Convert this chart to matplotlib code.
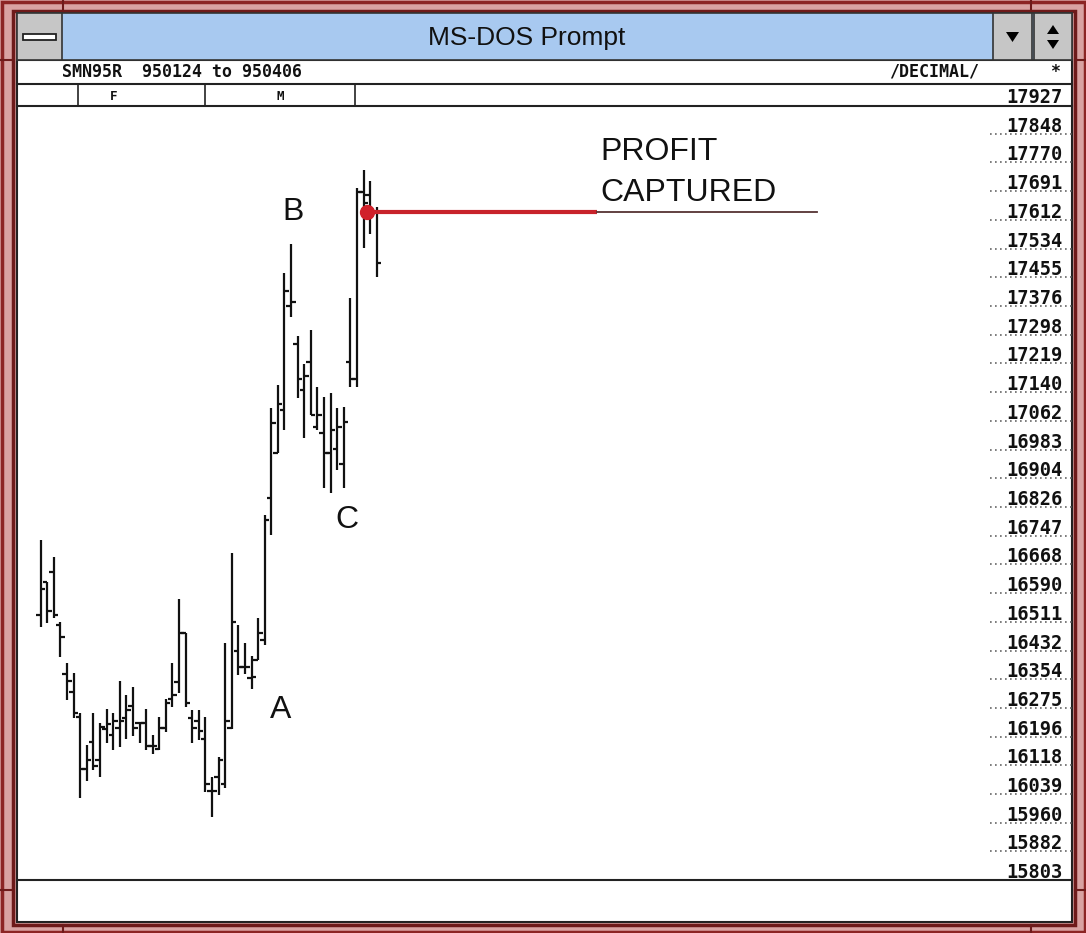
import matplotlib
matplotlib.use("Agg")
import matplotlib.pyplot as plt
import matplotlib.transforms as mtransforms
from matplotlib.patches import Rectangle, Polygon, Circle

# daily bars SMN95R 950124 .. 950406
opens = [16530, 16620, 16647, 16502, 16368, 16318, 16250, 16107, 16181, 16132,
         16217, 16201, 16220, 16247, 16280, 16233, 16233, 16171, 16162, 16220,
         16299, 16346, 16480, 16247, 16239, 16190, 16047, 16085, 16066, 16220,
         16431, 16387, 16357, 16406, 16461, 16850, 16974, 17091, 17376, 17272,
         17146, 17223, 17045, 17028, 16974, 16985, 16943, 17223, 17176, 17689,
         17681, 17634]
highs = [16735, 16620, 16689, 16510, 16398, 16371, 16261, 16173, 16261, 16233,
         16272, 16261, 16349, 16310, 16332, 16236, 16272, 16201, 16250, 16299,
         16398, 16573, 16480, 16269, 16269, 16250, 16085, 16140, 16453, 16700,
         16502, 16453, 16417, 16521, 16804, 17097, 17160, 17467, 17546, 17294,
         17218, 17311, 17154, 17127, 17138, 17097, 17100, 17398, 17700, 17749,
         17719, 17648]
lows = [16497, 16508, 16521, 16414, 16297, 16247, 16028, 16075, 16105, 16085,
        16179, 16160, 16168, 16190, 16198, 16179, 16160, 16149, 16160, 16209,
        16277, 16316, 16277, 16179, 16187, 16044, 15976, 16036, 16055, 16217,
        16365, 16368, 16327, 16406, 16447, 16749, 16974, 17037, 17346, 17124,
        17015, 17078, 17037, 16878, 16864, 16927, 16878, 17154, 17154, 17535,
        17574, 17456]
closes = [16601, 16540, 16530, 16469, 16349, 16261, 16107, 16132, 16116, 16223,
          16231, 16239, 16239, 16269, 16220, 16233, 16171, 16171, 16220, 16288,
          16310, 16480, 16288, 16220, 16212, 16066, 16047, 16132, 16239, 16510,
          16387, 16387, 16360, 16480, 16790, 17056, 17108, 17418, 17387, 17176,
          17185, 17078, 17078, 16974, 17037, 17045, 17059, 17176, 17689, 17659,
          17631, 17494]
price_labels = ["17927", "17848", "17770", "17691", "17612", "17534", "17455",
                "17376", "17298", "17219", "17140", "17062", "16983", "16904",
                "16826", "16747", "16668", "16590", "16511", "16432", "16354",
                "16275", "16196", "16118", "16039", "15960", "15882", "15803"]
month_labels = ["F", "M"]
profit_level = 17634

W, H = 1086, 933
fig = plt.figure(figsize=(W / 100, H / 100), dpi=100)
fig.patch.set_facecolor('#d9a2a2')

# pixel-space layer for the window chrome
bg = fig.add_axes([0, 0, 1, 1])
bg.set_xlim(0, W)
bg.set_ylim(H, 0)
bg.axis('off')

# window frame
bg.add_patch(Rectangle((1.5, 1.5), W - 3, H - 3, fill=False, ec='#8c2424', lw=2.5))
bg.add_patch(Rectangle((13, 11), 1062, 914, fill=False, ec='#6e1a1a', lw=2.5))
for xx in (63, 1031):
    bg.plot([xx, xx], [1, 11], color='#6e1a1a', lw=1.5)
    bg.plot([xx, xx], [925, 932], color='#6e1a1a', lw=1.5)
for yy in (60, 890):
    bg.plot([1, 13], [yy, yy], color='#6e1a1a', lw=1.5)
    bg.plot([1075, 1085], [yy, yy], color='#6e1a1a', lw=1.5)

# client area
bg.add_patch(Rectangle((17, 60), 1055, 862, fc='white', ec='#222222', lw=1.5))

# title bar
bg.add_patch(Rectangle((17, 13), 1055, 47, fc='#a8c9f0', ec='#333333', lw=1.2))
bg.add_patch(Rectangle((17, 13), 45, 47, fc='#c6c6c6', ec='#333333', lw=1.2))
bg.add_patch(Rectangle((23, 34), 33, 6, fc='white', ec='#222222', lw=1.3))
bg.add_patch(Rectangle((993, 13), 39, 47, fc='#c6c6c6', ec='#333333', lw=1.2))
bg.add_patch(Polygon([(1006, 32), (1019, 32), (1012.5, 42)], fc='black'))
bg.add_patch(Rectangle((1034, 13), 38, 47, fc='#c6c6c6', ec='#333333', lw=1.2))
bg.add_patch(Polygon([(1047, 34), (1059, 34), (1053, 25)], fc='black'))
bg.add_patch(Polygon([(1047, 40), (1059, 40), (1053, 49)], fc='black'))
bg.text(527, 38, "MS-DOS Prompt", ha='center', va='center', fontsize=19,
        family='Liberation Sans', color='#111111')

# header rows
mono = dict(family='DejaVu Sans Mono', weight='bold', color='#111111')
bg.text(62, 72, "SMN95R  950124 to 950406", ha='left', va='center', fontsize=12, **mono)
bg.text(979, 72, "/DECIMAL/", ha='right', va='center', fontsize=12, **mono)
bg.text(1055, 72, "*", ha='center', va='center', fontsize=12, **mono)
bg.plot([17, 1072], [84, 84], color='#222222', lw=1.5)
bg.plot([17, 1072], [106, 106], color='#222222', lw=1.5)
for xx in (78, 205, 355):
    bg.plot([xx, xx], [84, 106], color='#222222', lw=1.2)
bg.text(114, 96, month_labels[0], ha='center', va='center', fontsize=9, **mono)
bg.text(280, 96, month_labels[1], ha='center', va='center', fontsize=9, **mono)
bg.plot([17, 1072], [880, 880], color='#222222', lw=1.5)

# chart area
lo, hi = 15803, 17927
ax = fig.add_axes([20 / W, (H - 880) / H, 968 / W, (880 - 105.2) / H])
ax.set_facecolor('none')
ax.set_xlim(1 - (40.7 - 20) / 6.588, 1 + (988 - 40.7) / 6.588)
ax.set_ylim(lo, hi)
ax.axis('off')

idx = list(range(1, len(opens) + 1))
ax.vlines(idx, lows, highs, color='#111111', lw=1.6)
ax.hlines(opens, [i - 0.7 for i in idx], idx, color='#111111', lw=1.6)
ax.hlines(closes, idx, [i + 0.7 for i in idx], color='#111111', lw=1.6)

# price scale on the right
trans = mtransforms.blended_transform_factory(bg.transData, ax.transData)
lab_trans = mtransforms.offset_copy(trans, fig=fig, y=2, units='dots')
for k, lab in enumerate(price_labels):
    v = int(lab)
    ax.text(1063, v, lab, transform=lab_trans, ha='right', va='baseline',
            fontsize=13.5, clip_on=False, **mono)
    if 0 < k < len(price_labels) - 1:
        ax.plot([990, 1073], [v, v], transform=trans, color='#666666', lw=1.2,
                ls=(0, (1, 2)), clip_on=False)

# profit arrow
ax.plot([367, 597], [profit_level, profit_level], transform=trans,
        color='#c8232b', lw=3, solid_capstyle='butt', zorder=4)
ax.plot([597, 817], [profit_level, profit_level], transform=trans,
        color='#553333', lw=1.3, zorder=4)
ax.plot([367], [profit_level], transform=trans, marker='o', ms=10,
        color='#d0202a', zorder=5)

# annotations
sans = dict(family='Liberation Sans', color='#111111', fontsize=23)
bg.text(293, 212, "B", ha='center', va='center', **sans)
bg.text(347, 520, "C", ha='center', va='center', **sans)
bg.text(281, 710, "A", ha='center', va='center', **sans)
bg.text(600, 152, "PROFIT", ha='left', va='center', **sans)
bg.text(600, 193, "CAPTURED", ha='left', va='center', **sans)

fig.savefig("out.png", dpi=100, facecolor=fig.get_facecolor())
